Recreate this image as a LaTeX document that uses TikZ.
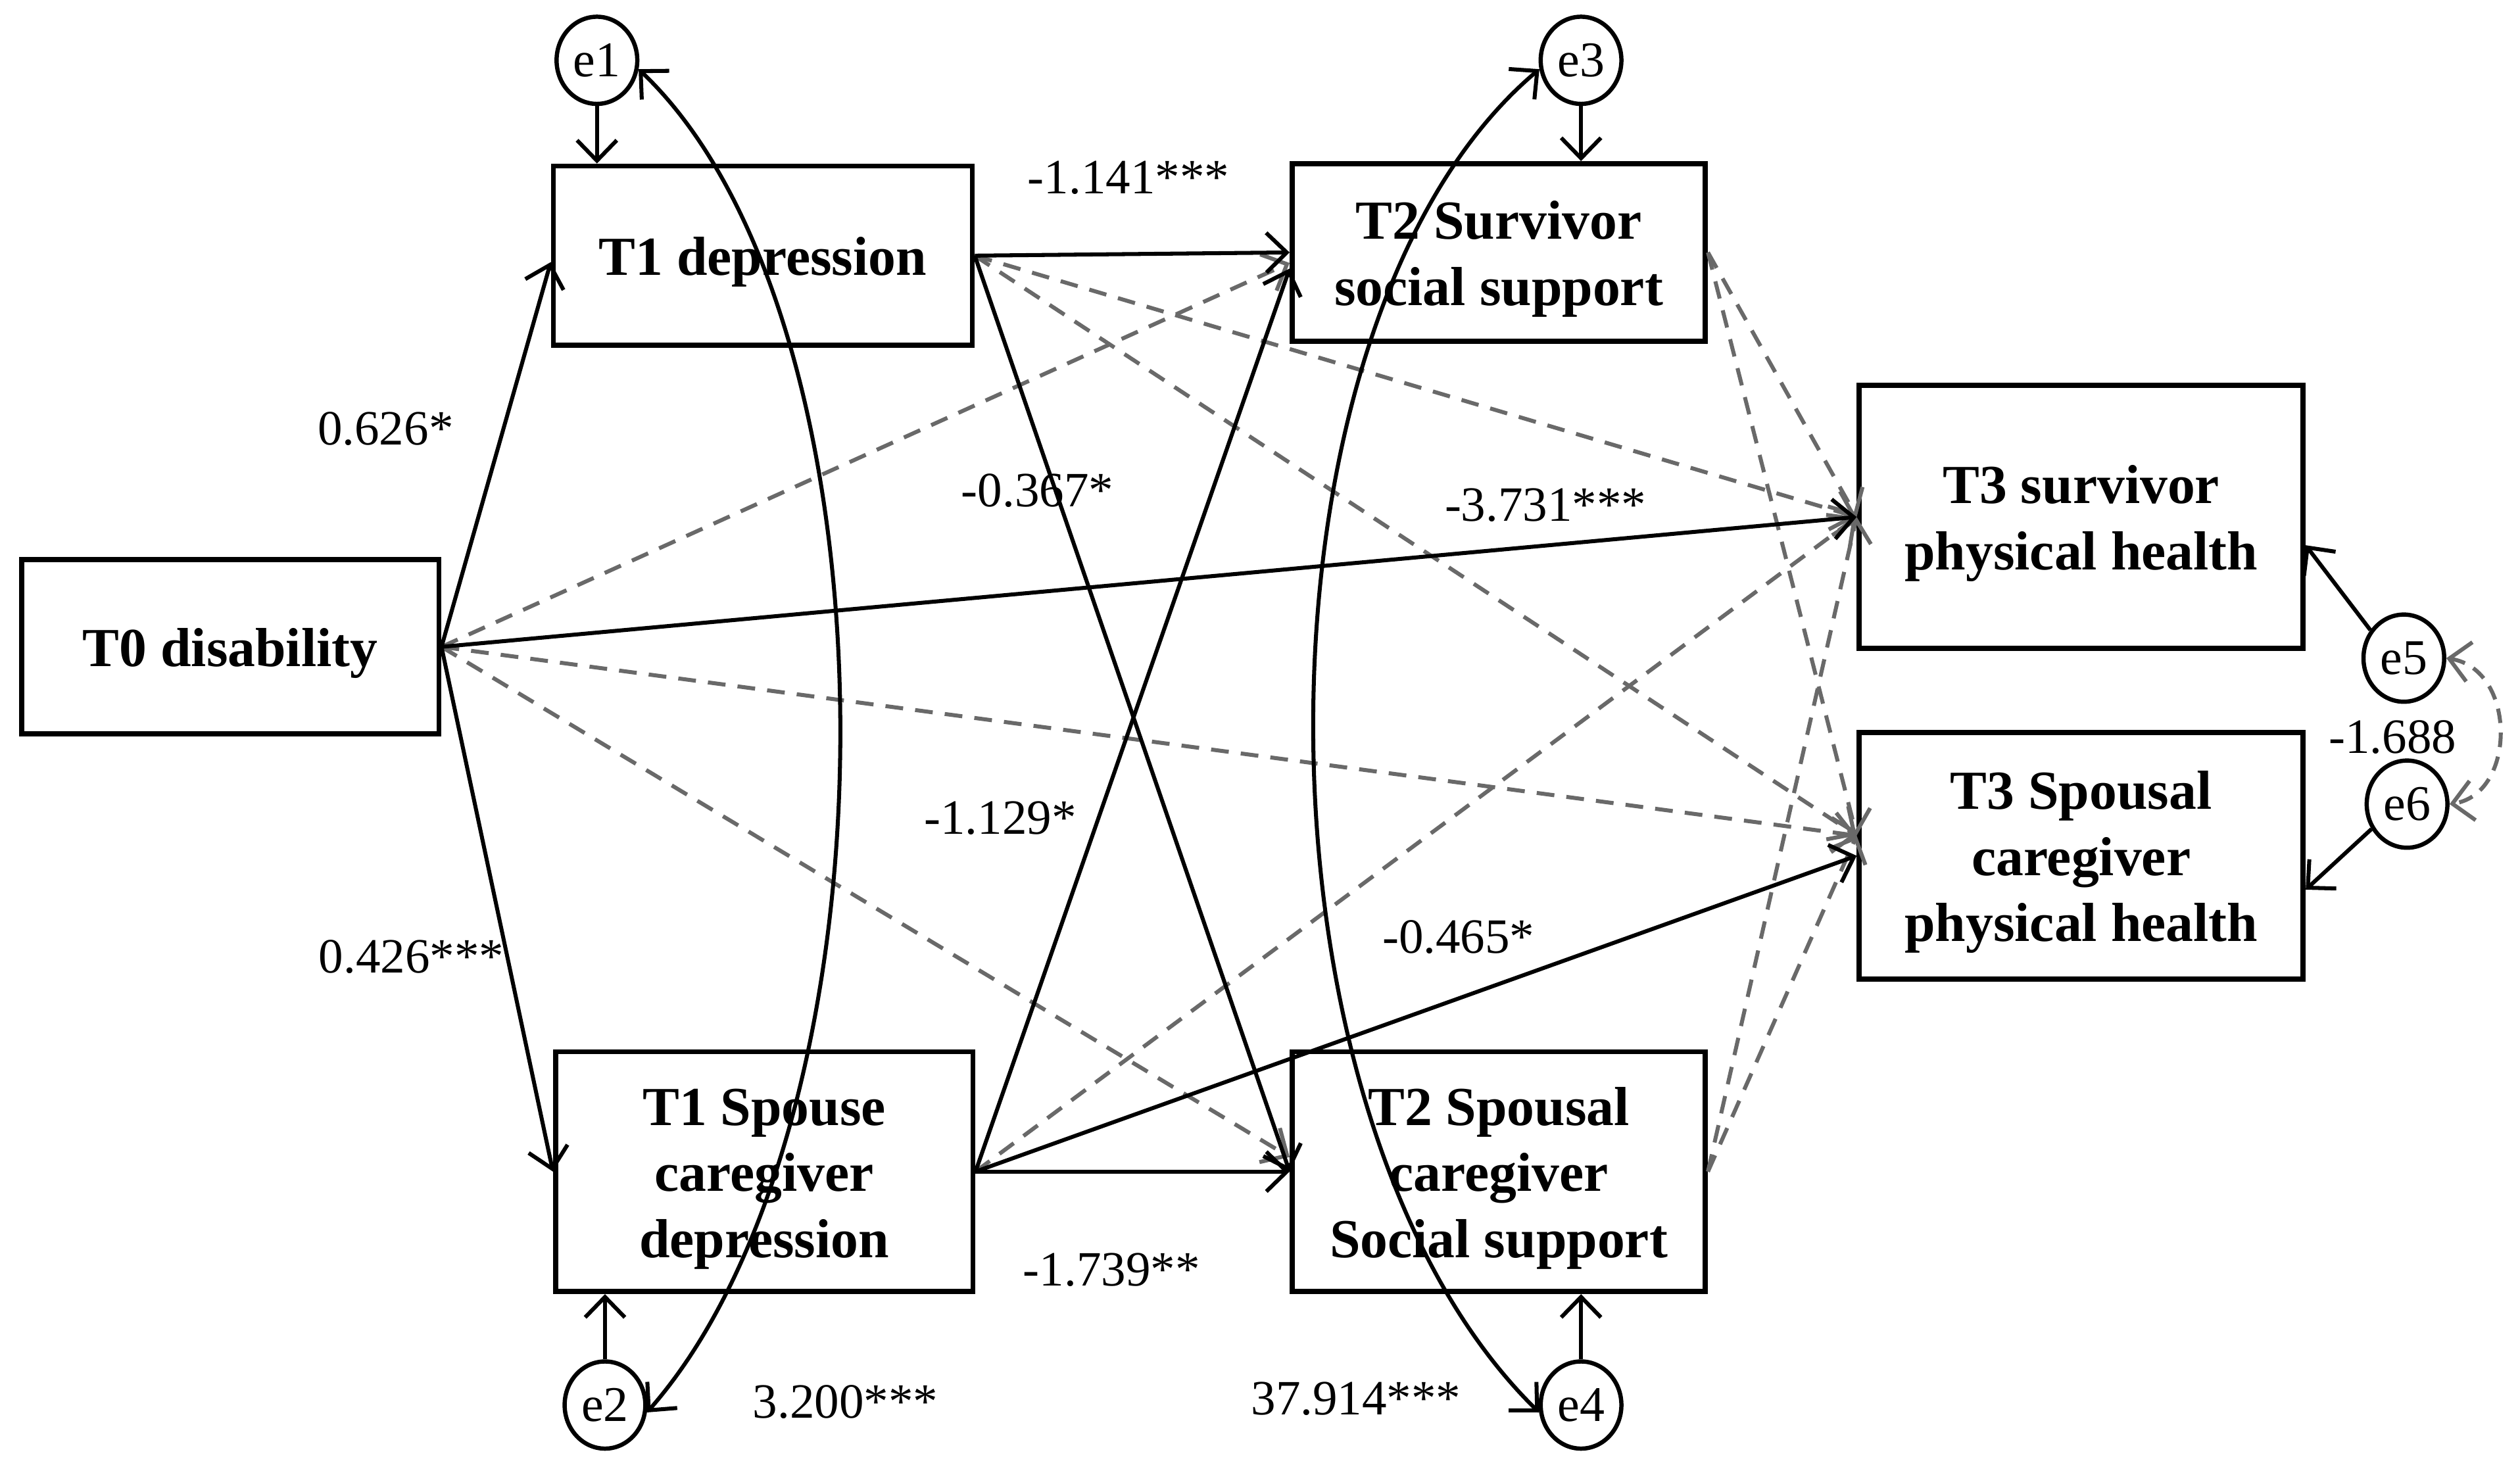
\documentclass[tikz,border=0pt]{standalone}
\usepackage{fontspec}
\setmainfont{Liberation Serif}
\usetikzlibrary{arrows.meta,shapes.geometric,calc}
\definecolor{dgray}{RGB}{105,105,105}
\newcommand{\bxs}{\rule{0pt}{9pt}}
\begin{document}
\begin{tikzpicture}[x=0.01cm,y=-0.01cm,
  box/.style={draw,line width=0.9pt,inner sep=0pt,align=center,font=\bfseries\fontsize{9.7}{11.66}\selectfont},
  err/.style={ellipse,draw,line width=0.75pt,minimum width=0.5cm,minimum height=0.54cm,inner sep=0pt,font=\fontsize{8.8}{10}\selectfont},
  lbl/.style={inner sep=0pt,font=\fontsize{8.7}{10}\selectfont},
  arr/.style={line width=0.7pt,-{Straight Barb[length=3.6pt,width=7pt]}},
  darr/.style={line width=0.7pt,dgray,dash pattern=on 0.11cm off 0.075cm,-{Straight Barb[length=3.6pt,width=7pt]}},
  dbl/.style={line width=0.7pt,{Straight Barb[length=3.6pt,width=7pt]}-{Straight Barb[length=3.6pt,width=7pt]}},
]
\useasboundingbox (0,0) rectangle (1562,909.4);

% boxes
\node[box,minimum width=2.586cm,minimum height=1.08cm] (t0) at (142.7,401) {\bxs T0 disability};
\node[box,minimum width=2.595cm,minimum height=1.11cm] (t1d) at (472.8,158.5) {\bxs T1 depression};
\node[box,minimum width=2.586cm,minimum height=1.486cm] (t1s) at (473.7,726.3) {\bxs T1 Spouse\\caregiver\\depression};
\node[box,minimum width=2.56cm,minimum height=1.10cm] (t2s) at (929,156.5) {\bxs T2 Survivor\\social support};
\node[box,minimum width=2.56cm,minimum height=1.486cm] (t2p) at (929,726.3) {\bxs T2 Spousal\\caregiver\\Social support};
\node[box,minimum width=2.75cm,minimum height=1.63cm] (t3s) at (1290,320.5) {\bxs T3 survivor\\physical health};
\node[box,minimum width=2.75cm,minimum height=1.53cm] (t3p) at (1290,530.5) {\bxs T3 Spousal\\caregiver\\physical health};

% error terms
\node[err] (e1) at (370,37.4) {e1};
\node[err] (e3) at (980,37.4) {e3};
\node[err] (e2) at (375,871) {e2};
\node[err] (e4) at (980,871) {e4};
\node[err] (e5) at (1490,408) {e5};
\node[err] (e6) at (1492,498.5) {e6};

% dashed (non-significant) paths
\draw[darr] (t0.east) -- ([yshift=-0.065cm]t2s.west);
\draw[darr] (t0.east) -- ([yshift=0.09cm]t2p.west);
\draw[darr] (t0.east) -- ([yshift=0.125cm]t3p.west);
\draw[darr] (t1d.east) -- (t3s.west);
\draw[darr] (t1d.east) -- ([yshift=0.125cm]t3p.west);
\draw[darr] (t1s.east) -- (t3s.west);
\draw[darr] (t2s.east) -- (t3s.west);
\draw[darr] (t2s.east) -- ([yshift=0.125cm]t3p.west);
\draw[darr] (t2p.east) -- (t3s.west);
\draw[darr] (t2p.east) -- ([yshift=0.125cm]t3p.west);
\draw[line width=0.7pt,dgray,dash pattern=on 0.09cm off 0.06cm,{Straight Barb[length=3.6pt,width=7pt]}-{Straight Barb[length=3.6pt,width=7pt]}]
  (e5.east) .. controls (1560,415) and (1560,492) .. (e6.east);

% solid paths
\draw[arr] (t0.east) -- ([yshift=-0.04cm]t1d.west);
\draw[arr] (t0.east) -- (t1s.west);
\draw[arr] (t0.east) -- (t3s.west);
\draw[arr] (t1d.east) -- (t2s.west);
\draw[arr] (t1d.east) -- (t2p.west);
\draw[arr] (t1s.east) -- ([yshift=-0.1cm]t2s.west);
\draw[arr] (t1s.east) -- (t2p.west);
\draw[arr] (t1s.east) -- (t3p.west);

% error arrows
\draw[arr] (e1.south) -- (e1.south |- t1d.north);
\draw[arr] (e3.south) -- (e3.south |- t2s.north);
\draw[arr] (e2.north) -- (e2.north |- t1s.south);
\draw[arr] (e4.north) -- (e4.north |- t2p.south);
\draw[arr] (e5.140) -- ([yshift=-0.175cm]t3s.east);
\draw[arr] (e6.215) -- ([yshift=-0.21cm]t3p.east);

% covariances
\draw[dbl] (e1.-12) .. controls (561,200) and (561,693) .. (e2.-10);
\draw[dbl] (e3.192) .. controls (768,200) and (768,693) .. (e4.190);

% labels
\node[lbl] (l1) at (699.5,110) {-1.141***};
\node[lbl] (l2) at (239,266) {0.626*};
\node[lbl] (l3) at (643,304) {-0.367*};
\node[lbl] (l4) at (958,313) {-3.731***};
\node[lbl] (l5) at (1483,457) {-1.688};
\node[lbl] (l6) at (620,507) {-1.129*};
\node[lbl] (l7) at (904,581) {-0.465*};
\node[lbl] (l8) at (255,593) {0.426***};
\node[lbl] (l9) at (689,787) {-1.739**};
\node[lbl] (l10) at (524,869) {3.200***};
\node[lbl] (l11) at (840.5,867) {37.914***};
\end{tikzpicture}
\end{document}
